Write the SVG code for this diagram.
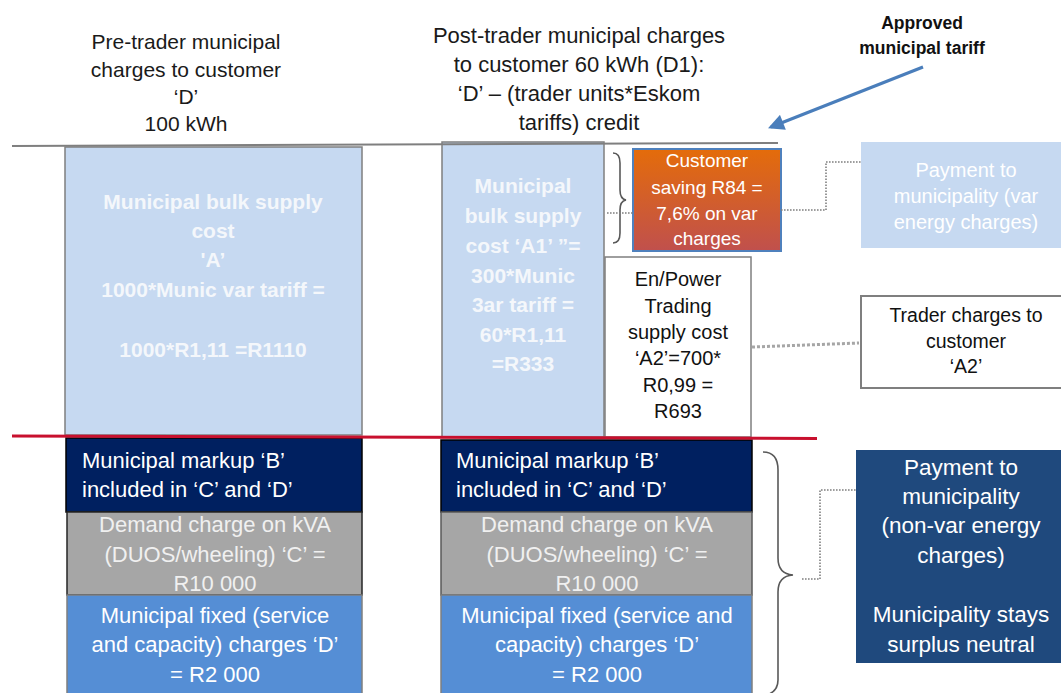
<svg xmlns="http://www.w3.org/2000/svg" width="1061" height="693" viewBox="0 0 1061 693">
<style>
text{font-family:"Liberation Sans",Arial,sans-serif;text-anchor:middle}
.hd{font-size:21px;fill:#1a1a1a}
.bw{font-size:21px;font-weight:bold;fill:#f4f7fb}
.bt{font-size:22px;fill:#ffffff}
.gt{font-size:22px;fill:#f0f0f0}
.lt{text-anchor:start}
.sm{font-size:20px;fill:#111}
.dot{fill:none;stroke:#7f7f7f;stroke-width:1.6;stroke-dasharray:1.6 1.4}
.gdot{fill:none;stroke:#a6a6a6;stroke-width:3;stroke-dasharray:3 2}
.brace{fill:none;stroke:#595959;stroke-width:1.6}
</style>
<defs>
<linearGradient id="og" x1="0" y1="0" x2="0" y2="1">
<stop offset="0" stop-color="#e46c0a"/>
<stop offset="1" stop-color="#c0504d"/>
</linearGradient>
<marker id="ah" viewBox="0 0 10 10" refX="8" refY="5" markerWidth="5.5" markerHeight="5" orient="auto">
<path d="M0,0 L10,5 L0,10 z" fill="#4a7ebb"/>
</marker>
</defs>
<rect width="1061" height="693" fill="#ffffff"/>

<g id="headers">
<text class="hd" x="186" y="49">Pre-trader municipal</text>
<text class="hd" x="186" y="77">charges to customer</text>
<text class="hd" x="186" y="104">‘D’</text>
<text class="hd" x="186" y="131">100 kWh</text>
<text class="hd" x="579" y="43" style="font-size:22px">Post-trader municipal charges</text>
<text class="hd" x="579" y="72" style="font-size:22px">to customer 60 kWh (D1):</text>
<text class="hd" x="579" y="101" style="font-size:22px">‘D’ – (trader units*Eskom</text>
<text class="hd" x="579" y="130" style="font-size:22px">tariffs) credit</text>
</g>

<g id="approved">
<text x="922" y="29" style="font-size:17.5px;font-weight:bold;fill:#111">Approved</text>
<text x="922" y="54" style="font-size:17.5px;font-weight:bold;fill:#111">municipal tariff</text>
</g>

<g id="left-A">
<rect x="65" y="147" width="297" height="288" fill="#c6d9f1" stroke="#7f7f7f" stroke-width="1.5"/>
<text class="bw" x="213" y="209">Municipal  bulk supply</text>
<text class="bw" x="213" y="238">cost</text>
<text class="bw" x="213" y="267">'A’</text>
<text class="bw" x="213" y="297">1000*Munic var tariff =</text>
<text class="bw" x="213" y="357">1000*R1,11 =R1110</text>
</g>

<g id="mid-A1">
<rect x="442" y="142" width="162" height="295" fill="#c6d9f1" stroke="#7f7f7f" stroke-width="1.5"/>
<text class="bw" x="523" y="193">Municipal</text>
<text class="bw" x="523" y="223">bulk supply</text>
<text class="bw" x="523" y="253">cost ‘A1’ ”=</text>
<text class="bw" x="523" y="283">300*Munic</text>
<text class="bw" x="523" y="312">3ar tariff =</text>
<text class="bw" x="523" y="342">60*R1,11</text>
<text class="bw" x="523" y="371">=R333</text>
</g>

<g id="mid-A2">
<rect x="605" y="257" width="146" height="180" fill="#ffffff" stroke="#7f7f7f" stroke-width="1.5"/>
<text class="sm" x="678" y="286">En/Power</text>
<text class="sm" x="678" y="313">Trading</text>
<text class="sm" x="678" y="339">supply cost</text>
<text class="sm" x="678" y="365">‘A2’=700*</text>
<text class="sm" x="678" y="392">R0,99 =</text>
<text class="sm" x="678" y="418">R693</text>
</g>

<g id="saving">
<rect x="633" y="149" width="148" height="102" fill="url(#og)" stroke="#4f81bd" stroke-width="2"/>
<text x="707" y="167" style="font-size:19px;fill:#fff">Customer</text>
<text x="707" y="194" style="font-size:19px;fill:#fff">saving R84 =</text>
<text x="707" y="220" style="font-size:19px;fill:#fff">7,6% on var</text>
<text x="707" y="245" style="font-size:19px;fill:#fff">charges</text>
</g>

<g id="pay-var">
<rect x="861" y="142" width="200" height="106" fill="#c6d9f1"/>
<text x="966" y="177" style="font-size:20px;fill:#fff">Payment to</text>
<text x="966" y="203" style="font-size:20px;fill:#fff">municipality (var</text>
<text x="966" y="229" style="font-size:20px;fill:#fff">energy charges)</text>
</g>

<g id="trader">
<rect x="861" y="296" width="205" height="92" fill="#ffffff" stroke="#7f7f7f" stroke-width="2"/>
<text class="sm" x="966" y="322" style="font-size:19.5px">Trader charges to</text>
<text class="sm" x="966" y="348" style="font-size:19.5px">customer</text>
<text class="sm" x="966" y="373" style="font-size:19.5px">‘A2’</text>
</g>

<g id="left-B">
<rect x="66" y="438" width="296" height="74" fill="#002060" stroke="#000" stroke-width="1.5"/>
<text class="bt lt" x="82" y="468">Municipal markup ‘B’</text>
<text class="bt lt" x="82" y="497">included in ‘C’ and ‘D’</text>
</g>
<g id="left-C">
<rect x="67" y="512" width="295" height="83" fill="#a6a6a6" stroke="#262626" stroke-width="1.5"/>
<text class="gt" x="215" y="532">Demand charge on kVA</text>
<text class="gt" x="215" y="562">(DUOS/wheeling) ‘C’ =</text>
<text class="gt" x="215" y="591">R10 000</text>
</g>
<g id="left-D">
<rect x="67" y="595" width="295" height="100" fill="#558ed5" stroke="#7f7f7f" stroke-width="1.5"/>
<text class="bt" x="215" y="623">Municipal fixed (service</text>
<text class="bt" x="215" y="652">and capacity) charges ‘D’</text>
<text class="bt" x="215" y="682">= R2 000</text>
</g>

<g id="mid-B">
<rect x="441" y="440" width="311" height="72" fill="#002060" stroke="#000" stroke-width="1.5"/>
<text class="bt lt" x="456" y="468">Municipal markup ‘B’</text>
<text class="bt lt" x="456" y="497">included in ‘C’ and ‘D’</text>
</g>
<g id="mid-C">
<rect x="441" y="512" width="311" height="83" fill="#a6a6a6" stroke="#595959" stroke-width="1.5"/>
<text class="gt" x="597" y="532">Demand charge on kVA</text>
<text class="gt" x="597" y="562">(DUOS/wheeling) ‘C’ =</text>
<text class="gt" x="597" y="591">R10 000</text>
</g>
<g id="mid-D">
<rect x="441" y="595" width="311" height="100" fill="#558ed5" stroke="#7f7f7f" stroke-width="1.5"/>
<text class="bt" x="597" y="623">Municipal fixed (service and</text>
<text class="bt" x="597" y="652">capacity) charges ‘D’</text>
<text class="bt" x="597" y="682">= R2 000</text>
</g>

<g id="pay-nonvar">
<rect x="856" y="450" width="205" height="213" fill="#1f497d"/>
<text x="961" y="475" style="font-size:22.5px;fill:#fff">Payment to</text>
<text x="961" y="504" style="font-size:22.5px;fill:#fff">municipality</text>
<text x="961" y="533" style="font-size:22.5px;fill:#fff">(non-var energy</text>
<text x="961" y="563" style="font-size:22.5px;fill:#fff">charges)</text>
<text x="961" y="622" style="font-size:22.5px;fill:#fff">Municipality stays</text>
<text x="961" y="652" style="font-size:22.5px;fill:#fff">surplus neutral</text>
</g>

<g id="connectors">
<line x1="12" y1="146" x2="778" y2="143" stroke="#7f7f7f" stroke-width="2"/>
<line x1="12" y1="436" x2="817" y2="438.5" stroke="#c8102e" stroke-width="3"/>
<line x1="923" y1="67" x2="771" y2="127" stroke="#4a7ebb" stroke-width="3.2" marker-end="url(#ah)"/>
<path class="brace" d="M613,153 Q620,153 620,163 L620,190 Q620,199 626,200 Q620,201 620,210 L620,233 Q620,243 613,243"/>
<path class="brace" d="M763,452 Q778,452 778,470 L778,558 Q778,574 793,575 Q778,576 778,592 L778,680 Q778,693 763,696"/>
<path class="dot" d="M607,213 L633,213"/>
<path class="dot" d="M781,210 L826,210 L826,162 L861,162"/>
<path class="gdot" d="M752,347 L859,343"/>
<path class="dot" d="M802,579 L820,579 L820,490 L857,490"/>
</g>
</svg>
